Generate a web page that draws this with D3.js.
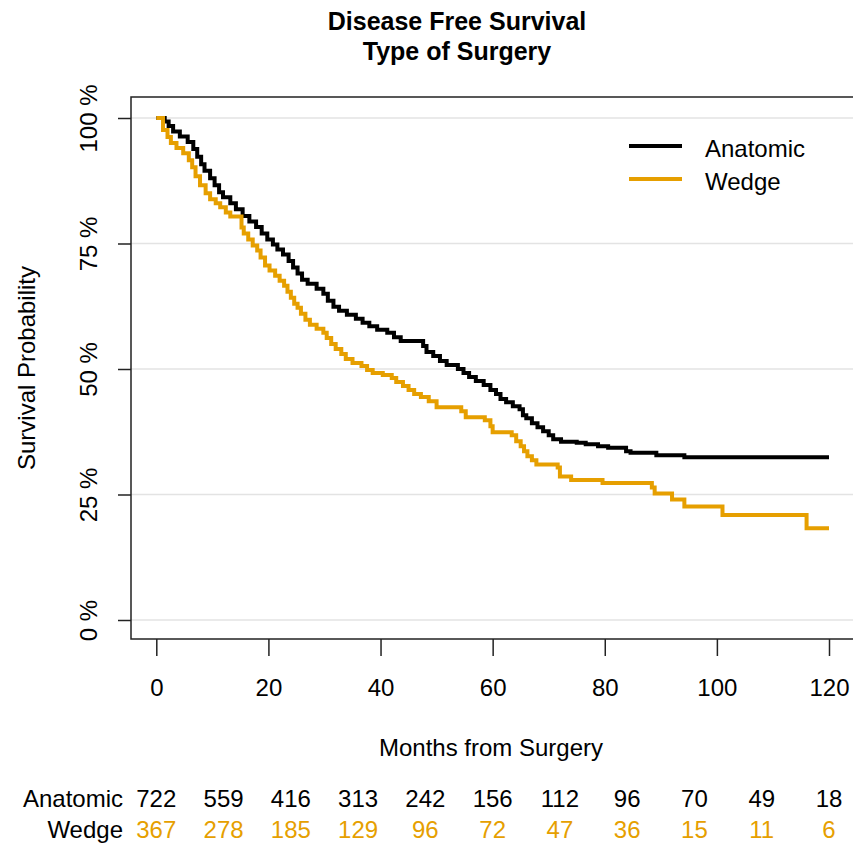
<!DOCTYPE html>
<html lang="en">
<head>
<meta charset="UTF-8">
<title>Disease Free Survival</title>
<style>
  body { margin: 0; background: #fff; }
  text { font-family: "Liberation Sans", Arial, sans-serif; fill: #000; }
</style>
</head>
<body>
<div id="my_dataviz"></div>
<script src="https://d3js.org/d3.v7.min.js"></script>
<script>

// Kaplan-Meier steps: month of each step, survival (%) after it
var anatomicTime = [0, 1.5, 2.2, 3.0, 4.2, 5.6, 6.6, 7.3, 8.0, 8.6, 9.6, 10.4, 11.2, 11.9, 13.2, 14.2, 15.4, 16.6, 17.8, 18.8,
  19.8, 20.8, 21.6, 22.6, 23.6, 24.4, 25.2, 26.0, 27.0, 28.6, 29.8, 30.6, 31.6, 32.6, 34.0, 35.6, 36.8, 38.0, 39.4, 41.2,
  42.4, 43.6, 47.6, 48.2, 49.4, 50.6, 51.8, 53.8, 54.8, 55.8, 57.0, 58.4, 59.6, 60.6, 61.4, 62.4, 63.6, 64.8, 65.4, 66.0,
  67.0, 68.0, 69.0, 70.0, 70.8, 72.2, 75.0, 76.6, 78.8, 80.6, 83.8, 84.6, 89.2, 94.2, 120];
var anatomicSurv = [100, 99.3, 98.4, 97.3, 96.3, 95.2, 93.8, 92.3, 90.8, 89.5, 88.0, 86.6, 85.2, 84.2, 83.0, 81.8, 80.5, 79.4, 78.3, 77.0,
  75.8, 74.8, 73.8, 72.8, 71.5, 70.2, 69.0, 67.8, 67.0, 66.0, 65.0, 63.6, 62.4, 61.6, 60.8, 60.0, 59.2, 58.5, 57.8, 57.2,
  56.3, 55.6, 54.6, 53.4, 52.6, 51.6, 50.8, 50.0, 49.2, 48.4, 47.6, 46.8, 45.8, 45.0, 44.0, 43.4, 42.6, 42.0, 40.8, 40.2,
  39.2, 38.4, 37.6, 36.8, 36.0, 35.5, 35.3, 35.0, 34.6, 34.3, 33.6, 33.3, 32.8, 32.4, 32.4];

var wedgeTime = [0, 1.2, 2.0, 2.6, 3.6, 4.8, 5.8, 6.4, 7.0, 7.8, 8.8, 9.6, 10.6, 11.4, 12.4, 13.2, 15.2, 15.6, 16.4, 17.2,
  18.0, 18.6, 19.4, 20.2, 21.2, 22.0, 22.8, 23.4, 24.0, 24.6, 25.2, 25.8, 26.6, 27.4, 28.6, 29.8, 30.4, 31.2, 32.0, 33.0,
  33.8, 35.0, 36.6, 37.6, 38.6, 40.4, 42.0, 42.8, 44.0, 45.0, 46.0, 47.2, 48.6, 50.0, 54.4, 55.2, 58.6, 59.6, 60.0, 63.4,
  64.2, 65.0, 65.6, 66.2, 67.0, 67.8, 71.6, 72.0, 74.0, 79.6, 88.4, 88.9, 92.0, 94.2, 101.0, 116.0, 120];
var wedgeSurv = [100, 97.6, 96.2, 95.0, 94.0, 93.0, 91.6, 90.2, 88.4, 86.6, 85.0, 83.8, 83.0, 82.2, 81.2, 80.4, 78.2, 77.0, 75.8, 74.6,
  73.6, 72.2, 70.6, 69.6, 68.6, 67.6, 66.6, 65.4, 64.2, 63.0, 62.2, 61.0, 59.8, 58.8, 58.0, 57.2, 56.2, 55.0, 54.0, 53.0,
  52.0, 51.2, 50.6, 49.8, 49.2, 48.8, 48.2, 47.4, 46.6, 45.8, 45.0, 44.4, 43.6, 42.4, 41.6, 40.4, 39.8, 38.6, 37.4, 36.8,
  35.6, 34.6, 33.6, 32.6, 31.8, 31.0, 30.4, 28.6, 27.9, 27.3, 26.4, 25.2, 24.0, 22.6, 20.9, 18.3, 18.3];

var groups = ["Anatomic", "Wedge"];
var groupColors = ["#000000", "#E69F00"];

var xTicks = [0, 20, 40, 60, 80, 100, 120];
var yTicks = [0, 25, 50, 75, 100];

// numbers at risk
var riskTimes = [0, 12, 24, 36, 48, 60, 72, 84, 96, 108, 120];
var anatomicRisk = [722, 559, 416, 313, 242, 156, 112, 96, 70, 49, 18];
var wedgeRisk = [367, 278, 185, 129, 96, 72, 47, 36, 15, 11, 6];

var W = 853, H = 843;
var box = {left: 131, top: 97, right: 870, bottom: 639};
var fs = 24;

var svg = d3.select("#my_dataviz")
  .append("svg")
    .attr("width", W)
    .attr("height", H);

var x = d3.scaleLinear().domain([0, 120]).range([156.3, 829]);
var y = d3.scaleLinear().domain([0, 100]).range([620, 118]);

// grid lines
svg.append("g")
  .selectAll("line")
  .data(yTicks)
  .enter()
  .append("line")
    .attr("x1", box.left)
    .attr("x2", W)
    .attr("y1", function(d) { return y(d); })
    .attr("y2", function(d) { return y(d); })
    .attr("stroke", "#e3e3e3")
    .attr("stroke-width", 1.5);

// survival curves
var line = d3.line()
  .x(function(d) { return x(d[0]); })
  .y(function(d) { return y(d[1]); })
  .curve(d3.curveStepAfter);

var curves = [d3.zip(anatomicTime, anatomicSurv), d3.zip(wedgeTime, wedgeSurv)];
svg.append("g")
  .selectAll("path")
  .data(curves)
  .enter()
  .append("path")
    .attr("d", line)
    .attr("fill", "none")
    .attr("stroke", function(d, i) { return groupColors[i]; })
    .attr("stroke-width", 4)
    .attr("stroke-linejoin", "miter");

// plot box
svg.append("rect")
  .attr("x", box.left)
  .attr("y", box.top)
  .attr("width", box.right - box.left)
  .attr("height", box.bottom - box.top)
  .attr("fill", "none")
  .attr("stroke", "#222")
  .attr("stroke-width", 1.5);

// x axis
var xAxis = svg.append("g")
  .attr("transform", "translate(0," + box.bottom + ")")
  .call(d3.axisBottom(x).tickValues(xTicks).tickSize(17).tickPadding(23));
xAxis.select(".domain").remove();
xAxis.selectAll("line").attr("stroke", "#222").attr("stroke-width", 1.5);
xAxis.selectAll("text")
  .attr("font-size", fs)
  .attr("font-family", "Liberation Sans, Arial, sans-serif")
  .attr("fill", "#000");

// y axis
var yAxis = svg.append("g")
  .attr("transform", "translate(" + box.left + ",0)")
  .call(d3.axisLeft(y).tickValues(yTicks).tickSize(13).tickFormat(function(d) { return d + " %"; }));
yAxis.select(".domain").remove();
yAxis.selectAll("line").attr("stroke", "#222").attr("stroke-width", 1.5);
yAxis.selectAll("text")
  .attr("transform", "rotate(-90)")
  .attr("x", 0)
  .attr("y", -34)
  .attr("dy", 0)
  .attr("text-anchor", "middle")
  .attr("font-size", fs)
  .attr("font-family", "Liberation Sans, Arial, sans-serif")
  .attr("fill", "#000");

// title
svg.append("text")
  .attr("x", 457).attr("y", 30)
  .attr("text-anchor", "middle")
  .attr("font-size", 25).attr("font-weight", "bold")
  .text("Disease Free Survival");
svg.append("text")
  .attr("x", 457).attr("y", 60)
  .attr("text-anchor", "middle")
  .attr("font-size", 25).attr("font-weight", "bold")
  .text("Type of Surgery");

// axis labels
svg.append("text")
  .attr("x", 491).attr("y", 756)
  .attr("text-anchor", "middle")
  .attr("font-size", fs)
  .text("Months from Surgery");
svg.append("text")
  .attr("transform", "translate(35,368) rotate(-90)")
  .attr("text-anchor", "middle")
  .attr("font-size", fs)
  .text("Survival Probability");

// legend
var legend = svg.append("g");
legend.selectAll("line")
  .data(groups)
  .enter()
  .append("line")
    .attr("x1", 629).attr("x2", 682)
    .attr("y1", function(d, i) { return 146 + i * 33; })
    .attr("y2", function(d, i) { return 146 + i * 33; })
    .attr("stroke", function(d, i) { return groupColors[i]; })
    .attr("stroke-width", 4);
legend.selectAll("text")
  .data(groups)
  .enter()
  .append("text")
    .attr("x", 705)
    .attr("y", function(d, i) { return 157 + i * 33; })
    .attr("font-size", fs)
    .text(function(d) { return d; });

// risk table
var riskRows = [anatomicRisk, wedgeRisk];
riskRows.forEach(function(row, r) {
  var ry = 807 + r * 31;
  svg.append("text")
    .attr("x", 123).attr("y", ry)
    .attr("text-anchor", "end")
    .attr("font-size", fs)
    .text(groups[r]);
  svg.append("g")
    .selectAll("text")
    .data(row)
    .enter()
    .append("text")
      .attr("x", function(d, i) { return x(riskTimes[i]); })
      .attr("y", ry)
      .attr("text-anchor", "middle")
      .attr("font-size", fs)
      .style("fill", groupColors[r])
      .text(function(d) { return d; });
});

</script>
</body>
</html>
